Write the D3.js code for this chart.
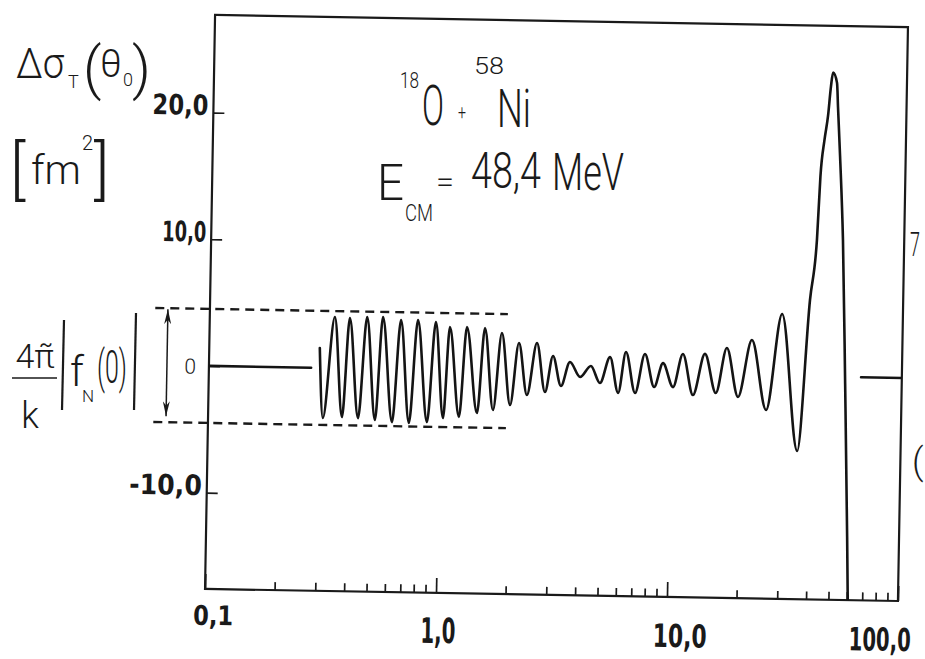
<!DOCTYPE html>
<html>
<head>
<meta charset="utf-8">
<script src="https://cdn.jsdelivr.net/npm/d3@7"></script>
<style>
  html, body { margin: 0; padding: 0; background: #ffffff; }
  svg { display: block; }
  .hand  { font-family: "DejaVu Sans Condensed", "DejaVu Sans", sans-serif; fill: #1a1a1a; }
  .thin  { font-family: "Roboto", "DejaVu Sans", sans-serif; font-weight: 300; fill: #1a1a1a; }
</style>
</head>
<body>
<svg id="chart" width="925" height="659"></svg>
<script>
// Turning points of the cross-section difference curve (log abscissa)
const curveX = [0.301, 0.314, 0.348, 0.380, 0.404, 0.446, 0.480, 0.528, 0.562, 0.626,
                0.673, 0.741, 0.797, 0.887, 0.953, 1.04, 1.097, 1.219, 1.30, 1.458,
                1.556, 1.709, 1.844, 2.024, 2.189, 2.39, 2.62, 2.86, 3.08, 3.35,
                3.65, 4.05, 4.50, 4.94, 5.44, 5.93, 6.37, 7.02, 7.70, 8.48,
                9.23, 10.24, 11.24, 12.5, 14.0, 15.7, 17.4, 19.6, 22.3, 26.0,
                30.0, 35.7, 39.5, 41.9, 42.9, 44.4, 45.8, 46.9, 47.8, 49.8,
                50.5, 52.0, 54.3, 56.9, 59.6, 60.8];
const curveY = [1.57, -3.95, 4.03, -3.85, 3.98, -3.91, 4.08, -4.04, 4.10, -4.18,
                3.89, -4.23, 3.91, -4.13, 3.78, -3.79, 3.40, -3.69, 3.43, -3.35,
                3.37, -3.09, 3.00, -2.67, 2.23, -1.86, 2.26, -1.60, 1.26, -1.10,
                0.81, -0.36, 0.52, -0.81, 1.25, -1.57, 1.67, -1.55, 1.54, -1.05,
                0.85, -1.03, 1.59, -1.63, 1.63, -1.44, 2.13, -1.72, 2.79, -2.71,
                4.89, -5.90, 6.03, 10.8, 15.8, 18.7, 20.6, 22.9, 24.0, 23.2,
                21.3, 17.4, 10.8, -0.55, -12.6, -18.5];

// Flat (zero) stretches on either side of the oscillating region
const leftBaselineX  = [0.1, 0.277];
const rightBaselineX = [66.6, 100];
const baselineY = 0;

// Nuclear forward amplitude band  ±(4π/k)|f_N(0)|
const envelopeAmp = 4.5;
const envelopeX = [0.058, 1.95];

// Axis ticks
const xMajorTicks  = [0.1, 1, 10, 100];
const xMajorLabels = ["0,1", "1,0", "10,0", "100,0"];
const xMinorTicks  = [0.2, 0.3, 0.4, 0.5, 0.6, 0.7, 0.8, 0.9,
                      2, 3, 4, 5, 6, 7, 8, 9,
                      20, 30, 40, 50, 60, 70, 80, 90];
const yTicks      = [20, 10, 0, -10];
const yTickLabels = ["20,0", "10,0", "0", "-10,0"];

const svg = d3.select("#chart");
const frame = { left: 210, top: 21, right: 903, bottom: 595 };

const x = d3.scaleLog().domain([0.1, 100]).range([frame.left, frame.right]);
const y = d3.scaleLinear().domain([-17.6, 27.7]).range([frame.bottom, frame.top]);

// narrow a text element horizontally to a target width (hand lettering is tall and slim)
function squeeze(t, x0, y0, len) {
  let sx = 1;
  if (len) sx = len / t.node().getComputedTextLength();
  t.attr("x", null).attr("y", null).attr("dy", null)
   .attr("transform", `translate(${x0},${y0}) scale(${sx},1)`);
  return t;
}

// whole plot is drawn on a slightly tilted sheet
const plot = svg.append("g").attr("transform", "rotate(1, 557, 308)");

const defs = svg.append("defs");
defs.append("clipPath").attr("id", "plotClip")
  .append("rect")
  .attr("x", frame.left).attr("y", frame.top)
  .attr("width", frame.right - frame.left).attr("height", frame.bottom - frame.top);

defs.append("marker")
  .attr("id", "arrowHead")
  .attr("viewBox", "0 0 10 10")
  .attr("refX", 10).attr("refY", 5)
  .attr("markerUnits", "userSpaceOnUse")
  .attr("markerWidth", 15).attr("markerHeight", 7)
  .attr("preserveAspectRatio", "none")
  .attr("orient", "auto-start-reverse")
  .append("path").attr("d", "M0,0 L10,5 L0,10 L3,5 Z").attr("fill", "#1a1a1a");

// frame
plot.append("rect")
  .attr("x", frame.left).attr("y", frame.top)
  .attr("width", frame.right - frame.left).attr("height", frame.bottom - frame.top)
  .attr("fill", "none").attr("stroke", "#1a1a1a").attr("stroke-width", 2.2);

// x axis: minor and major ticks pointing into the plot
const gxMinor = plot.append("g").attr("transform", `translate(0,${frame.bottom})`)
  .call(d3.axisBottom(x).tickValues(xMinorTicks).tickSize(-8).tickFormat(""));
gxMinor.select(".domain").remove();

const xLabelWidth  = { 0.1: 40, 1: 35, 10: 54, 100: 62 };
const xLabelOffset = { 0.1: 8, 1: 2, 10: 13, 100: -18 };
const gxMajor = plot.append("g").attr("transform", `translate(0,${frame.bottom})`)
  .call(d3.axisBottom(x).tickValues(xMajorTicks).tickSize(-15)
        .tickFormat((d, i) => xMajorLabels[i]));
gxMajor.select(".domain").remove();
gxMajor.selectAll("text")
  .attr("class", "hand")
  .attr("font-size", (d) => d === 0.1 ? 27 : d === 1 ? 35 : 32)
  .attr("font-weight", "bold")
  .attr("fill", "#1a1a1a")
  .each(function (d) {
    squeeze(d3.select(this), xLabelOffset[d], d === 0.1 ? 36 : 50, xLabelWidth[d]);
  });

// y axis
const yLabelWidth = { 20: 56, 10: 44, 0: null, "-10": null };
const gy = plot.append("g").attr("transform", `translate(${frame.left},0)`)
  .call(d3.axisLeft(y).tickValues(yTicks).tickSize(-11).tickPadding(5)
        .tickFormat((d, i) => yTickLabels[i]));
gy.select(".domain").remove();
gy.selectAll("text")
  .attr("class", "hand")
  .attr("font-size", 28)
  .attr("font-weight", "bold")
  .attr("fill", "#1a1a1a")
  .each(function (d) {
    if (d !== 0) squeeze(d3.select(this), -5, 2, yLabelWidth[d]);
  });
gy.selectAll(".tick").filter((d) => d === 0).select("text")
  .attr("class", "thin")
  .attr("font-size", 21)
  .attr("x", -13)
  .attr("dy", "0.36em");

plot.selectAll(".tick line").attr("stroke", "#1a1a1a").attr("stroke-width", 1.7);

// dashed band  ±(4π/k)|f_N(0)|
[envelopeAmp, -envelopeAmp].forEach((a) => {
  plot.append("line")
    .attr("x1", x(envelopeX[0])).attr("x2", x(envelopeX[1]))
    .attr("y1", y(a)).attr("y2", y(a))
    .attr("stroke", "#1a1a1a").attr("stroke-width", 2.4)
    .attr("stroke-dasharray", "9,6");
});

// double arrow marking the band width
plot.append("line")
  .attr("x1", frame.left - 42).attr("x2", frame.left - 42)
  .attr("y1", y(envelopeAmp) + 1).attr("y2", y(-envelopeAmp) - 6)
  .attr("stroke", "#1a1a1a").attr("stroke-width", 1.5)
  .attr("marker-start", "url(#arrowHead)")
  .attr("marker-end", "url(#arrowHead)");

// curve
const line = d3.line()
  .x((d) => x(d[0]))
  .y((d) => y(d[1]))
  .curve(d3.curveMonotoneX);

const curveG = plot.append("g").attr("clip-path", "url(#plotClip)");
const strokeStyle = (sel) => sel.attr("fill", "none").attr("stroke", "#141414")
  .attr("stroke-width", 2.6).attr("stroke-linejoin", "round").attr("stroke-linecap", "round");

curveG.append("path").datum(d3.zip(curveX, curveY)).attr("d", line).call(strokeStyle);
curveG.append("path").datum(leftBaselineX.map((v) => [v, baselineY])).attr("d", line).call(strokeStyle);
curveG.append("path").datum(rightBaselineX.map((v) => [v, baselineY])).attr("d", line).call(strokeStyle);

// ---- hand-lettered annotations ----
const lab = (txt, x0, y0, size, len) => {
  const t = svg.append("text").attr("class", "thin").attr("font-size", size).text(txt);
  return squeeze(t, x0, y0, len);
};

// ordinate title  Δσ_T(θ_0)  [fm²]
lab("Δσ", 16, 78, 42, 48);
lab("T", 68, 88, 18);
lab("(", 83, 88, 58);
lab("θ", 100, 77, 38);
lab("0", 123, 86, 18);
lab(")", 132, 88, 58);

lab("[", 10, 192, 64);
lab("fm", 31, 184, 40, 50);
lab("2", 82, 150, 20);
lab("]", 94, 192, 64);

// (4π̃/k)|f_N(0)|
lab("4π̃", 35, 368, 34).attr("text-anchor", "middle");
svg.append("line").attr("x1", 12).attr("x2", 57).attr("y1", 378).attr("y2", 378)
  .attr("stroke", "#1a1a1a").attr("stroke-width", 1.6);
lab("k", 30, 428, 36).attr("text-anchor", "middle");
svg.append("line").attr("x1", 64).attr("x2", 62).attr("y1", 320).attr("y2", 410)
  .attr("stroke", "#1a1a1a").attr("stroke-width", 2.2);
svg.append("line").attr("x1", 136).attr("x2", 134).attr("y1", 313).attr("y2", 410)
  .attr("stroke", "#1a1a1a").attr("stroke-width", 2.2);
lab("f", 70, 386, 42);
lab("N", 82, 402, 17);
lab("(0)", 97, 383, 46, 30);

// reaction label  ¹⁸O + ⁵⁸Ni ,  E_CM = 48,4 MeV
lab("18", 400, 88, 22, 19);
lab("O", 422, 125, 56, 22);
lab("+", 458, 119, 20, 8);
lab("58", 474, 74, 24, 30);
lab("Ni", 497, 127, 54, 34);
lab("E", 377, 200, 50, 27);
lab("CM", 405, 221, 24, 28);
lab("=", 436, 192, 30, 18);
lab("48,4", 471, 188, 50, 70);
lab("MeV", 552, 190, 52, 72);

// letters from the neighbouring text at the page edge
lab("7", 910, 256, 34, 10);
lab("(", 912, 474, 36);
</script>
</body>
</html>
